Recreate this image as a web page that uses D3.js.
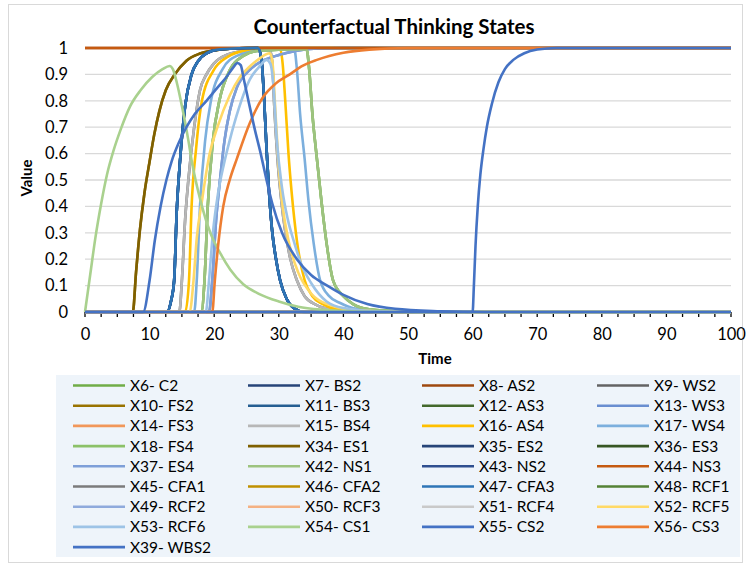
<!DOCTYPE html>
<html><head><meta charset="utf-8">
<script src="https://cdn.jsdelivr.net/npm/d3@7"></script>
<style>body{margin:0;background:#fff}svg{display:block}</style>
</head><body>
<svg id="c" width="753" height="567"></svg>
<script>
// ---- data (time, value) ----
const xTicks = [0,10,20,30,40,50,60,70,80,90,100];
const yTicks = [0,0.1,0.2,0.3,0.4,0.5,0.6,0.7,0.8,0.9,1];

const constOne = [[0,1],[100,1]];
const constZero = [[0,0],[100,0]];
const oliveRise = [[0,0],[7.4,0],[7.9,0.15],[8.5,0.31],[9.2,0.45],[10,0.57],[10.7,0.67],[11.5,0.76],[12.5,0.84],[13.9,0.9],[15.7,0.952],[17.8,0.979],[21,0.994],[25,1],[100,1]];
const cs1Peak = [[0,0],[0.8,0.14],[1.6,0.28],[2.5,0.41],[3.4,0.52],[4.4,0.61],[5.5,0.69],[7,0.78],[8.6,0.84],[10.4,0.89],[12,0.92],[13.1,0.932],[13.6,0.92],[14.3,0.86],[15,0.78],[16,0.65],[16.5,0.575],[17.9,0.42],[19.4,0.3],[21,0.22],[22.5,0.16],[24.5,0.105],[27,0.068],[30,0.04],[33,0.02],[37,0.008],[42,0.002],[50,0],[100,0]];
const wbs2Peak = [[0,0],[9,0],[10,0.12],[10.8,0.27],[11.7,0.4],[12.6,0.5],[13.4,0.57],[14.5,0.64],[15.7,0.7],[17,0.75],[18.8,0.8],[20.5,0.85],[21.9,0.89],[22.9,0.925],[23.6,0.943],[24.1,0.935],[24.6,0.88],[25.3,0.8],[26.3,0.69],[27.2,0.6],[28.1,0.5],[29,0.41],[30.5,0.3],[32.8,0.2],[35,0.14],[37.5,0.1],[40,0.065],[43.7,0.03],[48,0.012],[55,0.003],[62,0],[100,0]];
const darkBluePulse = [[0,0],[12.7,0],[13.3,0.04],[13.8,0.12],[14.2,0.38],[14.7,0.57],[15.5,0.78],[16.5,0.9],[17.5,0.95],[18.8,0.98],[21,0.995],[26.8,1],[27.3,0.96],[27.7,0.82],[28.1,0.62],[28.5,0.45],[29,0.3],[29.5,0.21],[30.2,0.12],[31.2,0.05],[32.3,0.015],[34,0],[100,0]];
const grayPulse = [[0,0],[14.6,0],[15,0.12],[15.5,0.35],[16,0.5],[16.9,0.7],[17.8,0.84],[18.8,0.9],[19.9,0.94],[22,0.975],[25,0.99],[28.6,0.995],[29,0.94],[29.3,0.78],[29.8,0.58],[30.4,0.42],[31.7,0.21],[32.8,0.12],[34,0.06],[35.8,0.027],[38,0.01],[42,0.002],[50,0],[100,0]];
const goldPulse = [[0,0],[15.5,0],[16.1,0.12],[16.5,0.4],[17.2,0.62],[18.1,0.8],[19.9,0.915],[22,0.965],[25,0.99],[30.2,0.997],[30.6,0.94],[31,0.8],[31.5,0.6],[32,0.45],[32.8,0.27],[34,0.12],[35.2,0.06],[36.8,0.03],[39,0.01],[44,0.002],[50,0],[100,0]];
const rcf5Pulse = [[0,0],[16.2,0],[16.8,0.12],[17.3,0.28],[18.1,0.42],[19.3,0.6],[20.5,0.7],[22.4,0.82],[24,0.89],[25.5,0.93],[27,0.96],[28.6,0.98],[29,0.95],[29.5,0.75],[30,0.55],[30.6,0.4],[31.6,0.26],[33,0.15],[35,0.07],[38,0.025],[42,0.006],[50,0],[100,0]];
const ws4Pulse = [[0,0],[16.9,0],[17.3,0.12],[17.8,0.4],[18.6,0.65],[19.5,0.8],[21.3,0.92],[23.5,0.97],[27,0.99],[32.4,0.995],[32.8,0.92],[33.3,0.75],[34,0.58],[34.6,0.42],[35.4,0.26],[36.4,0.12],[37.8,0.06],[39.5,0.034],[42,0.012],[47,0.002],[55,0],[100,0]];
const greenPulse = [[0,0],[18,0],[18.5,0.12],[19,0.4],[19.8,0.65],[20.8,0.8],[22.5,0.92],[24.5,0.97],[27,0.99],[34.3,0.995],[34.7,0.92],[35.2,0.75],[35.9,0.58],[36.6,0.42],[37.4,0.26],[38.4,0.12],[40,0.06],[41.5,0.03],[44,0.01],[49,0.002],[56,0],[100,0]];
const es4Rise = [[0,0],[19.2,0],[19.7,0.12],[20.3,0.35],[20.9,0.5],[21.6,0.65],[22.4,0.76],[23.5,0.85],[25.5,0.917],[27,0.945],[29.1,0.967],[31,0.98],[32.8,0.99],[36,0.998],[40,1],[100,1]];
const rcf6Pulse = [[0,0],[18.7,0],[19.2,0.12],[19.8,0.3],[20.6,0.45],[21.5,0.56],[22.4,0.65],[23.8,0.77],[25.5,0.88],[27,0.93],[28.1,0.955],[28.7,0.94],[29.2,0.85],[29.7,0.65],[30.5,0.47],[31.4,0.35],[32.3,0.27],[33.5,0.18],[35,0.11],[37.4,0.04],[40,0.015],[45,0.003],[52,0],[100,0]];
const cs3Rise = [[0,0],[19.7,0],[20.1,0.12],[20.6,0.25],[21.4,0.4],[22.4,0.5],[23.5,0.58],[25.5,0.715],[27.6,0.815],[29.5,0.865],[31.7,0.9],[33.5,0.93],[35.9,0.955],[40,0.982],[44,0.994],[50,1],[100,1]];
const cs2Rise = [[0,0],[60,0],[60.2,0.1],[60.45,0.25],[60.8,0.4],[61.2,0.52],[61.7,0.62],[62.2,0.7],[63,0.79],[64,0.87],[65,0.92],[66.3,0.955],[68,0.98],[70,0.994],[73,1],[100,1]];

const seriesNames = ["X6- C2","X7- BS2","X8- AS2","X9- WS2","X10- FS2","X11- BS3","X12- AS3","X13- WS3","X14- FS3","X15- BS4","X16- AS4","X17- WS4","X18- FS4","X34- ES1","X35- ES2","X36- ES3","X37- ES4","X42- NS1","X43- NS2","X44- NS3","X45- CFA1","X46- CFA2","X47- CFA3","X48- RCF1","X49- RCF2","X50- RCF3","X51- RCF4","X52- RCF5","X53- RCF6","X54- CS1","X55- CS2","X56- CS3","X39- WBS2"];
const seriesData = [greenPulse,darkBluePulse,constOne,grayPulse,oliveRise,darkBluePulse,constZero,es4Rise,constZero,grayPulse,goldPulse,ws4Pulse,greenPulse,oliveRise,darkBluePulse,constZero,es4Rise,greenPulse,darkBluePulse,constOne,constZero,constZero,darkBluePulse,constZero,constZero,constZero,constZero,rcf5Pulse,rcf6Pulse,cs1Peak,cs2Rise,cs3Rise,wbs2Peak];
const seriesColors = ["#70AD47","#264478","#9E480E","#636363","#997300","#255E91","#43682B","#698ED0","#F1975A","#B7B7B7","#FFC000","#7CAFDD","#8CC168","#7F6000","#264478","#375623","#7E9FD8","#9DC37F","#2F4F8F","#C55A11","#7B7B7B","#BF9000","#2E75B6","#548235","#8FAADC","#F4B183","#C9C9C9","#FFD966","#9DC3E6","#A9D18E","#4472C4","#ED7D31","#4472C4"];
// order in which the lines are stacked (CS3 lies under CS2)
const drawOrder = d3.range(seriesNames.length);
drawOrder.splice(30, 2, 31, 30);

// ---- drawing ----
const svg = d3.select("#c");
const font = "Lato, 'Open Sans', sans-serif";
svg.append("rect").attr("x",8.5).attr("y",4.5).attr("width",734).attr("height",558)
  .attr("fill","#fff").attr("stroke","#D9D9D9");

const x = d3.scaleLinear().domain([0,100]).range([85,731]);
const y = d3.scaleLinear().domain([0,1]).range([312,48]);

svg.append("text").attr("x",394).attr("y",34).attr("text-anchor","middle")
  .attr("font-family",font).attr("font-weight","bold").attr("font-size",20.5).attr("fill","#000")
  .text("Counterfactual Thinking States");

// grid
svg.append("g").selectAll("line").data(yTicks.filter(d=>d>0)).join("line")
  .attr("x1",x(0)).attr("x2",x(100)).attr("y1",d=>y(d)).attr("y2",d=>y(d))
  .attr("stroke","#D9D9D9").attr("stroke-width",1.3);

// y axis labels
const yAxis = d3.axisLeft(y).tickValues(yTicks).tickSize(0).tickPadding(17)
  .tickFormat(d=>d3.format("")(+d.toFixed(1)));
const gy = svg.append("g").attr("transform",`translate(${x(0)},0)`).call(yAxis);
gy.select(".domain").remove();
gy.selectAll("text").attr("font-family",font).attr("font-size",16.5).attr("fill","#000");

// x axis
const minor = d3.range(0,100.01,2.5);
const gx = svg.append("g").attr("transform",`translate(0,${y(0)})`);
gx.append("line").attr("x1",x(0)).attr("x2",x(100)).attr("stroke","#BFBFBF").attr("stroke-width",1);
gx.selectAll("line.t").data(minor).join("line").attr("class","t")
  .attr("x1",d=>x(d)).attr("x2",d=>x(d)).attr("y1",0).attr("y2",5)
  .attr("stroke","#000").attr("stroke-width",1.3);
const xAxis = d3.axisBottom(x).tickValues(xTicks).tickSize(0).tickPadding(16);
const gxl = svg.append("g").attr("transform",`translate(0,${y(0)})`).call(xAxis);
gxl.select(".domain").remove();
gxl.selectAll("text").attr("font-family",font).attr("font-size",16.5).attr("fill","#000");

// axis titles
svg.append("text").attr("x",435).attr("y",364).attr("text-anchor","middle")
  .attr("font-family",font).attr("font-weight","bold").attr("font-size",15).text("Time");
svg.append("text").attr("transform","translate(32,178) rotate(-90)").attr("text-anchor","middle")
  .attr("font-family",font).attr("font-weight","bold").attr("font-size",15).text("Value");

// lines
const line = d3.line().x(d=>x(d[0])).y(d=>y(d[1])).curve(d3.curveMonotoneX);
const gl = svg.append("g");
drawOrder.forEach(i=>{
  gl.append("path").attr("d",line(seriesData[i])).attr("fill","none")
    .attr("stroke",seriesColors[i]).attr("stroke-width",2.6).attr("stroke-linejoin","round");
});

// legend
svg.append("rect").attr("x",56).attr("y",375).attr("width",684).attr("height",182).attr("fill","#EEF4FA");
const colLine = [73,248,422,597];
const legend = svg.append("g");
seriesNames.forEach((n,i)=>{
  const c = i%4, r = Math.floor(i/4);
  const yy = 385.5 + r*20.2;
  legend.append("line").attr("x1",colLine[c]).attr("x2",colLine[c]+52).attr("y1",yy).attr("y2",yy)
    .attr("stroke",seriesColors[i]).attr("stroke-width",2.6);
  legend.append("text").attr("x",colLine[c]+57).attr("y",yy+5.5)
    .attr("font-family",font).attr("font-size",15.5).attr("fill","#000").text(n);
});
</script>
</body></html>
